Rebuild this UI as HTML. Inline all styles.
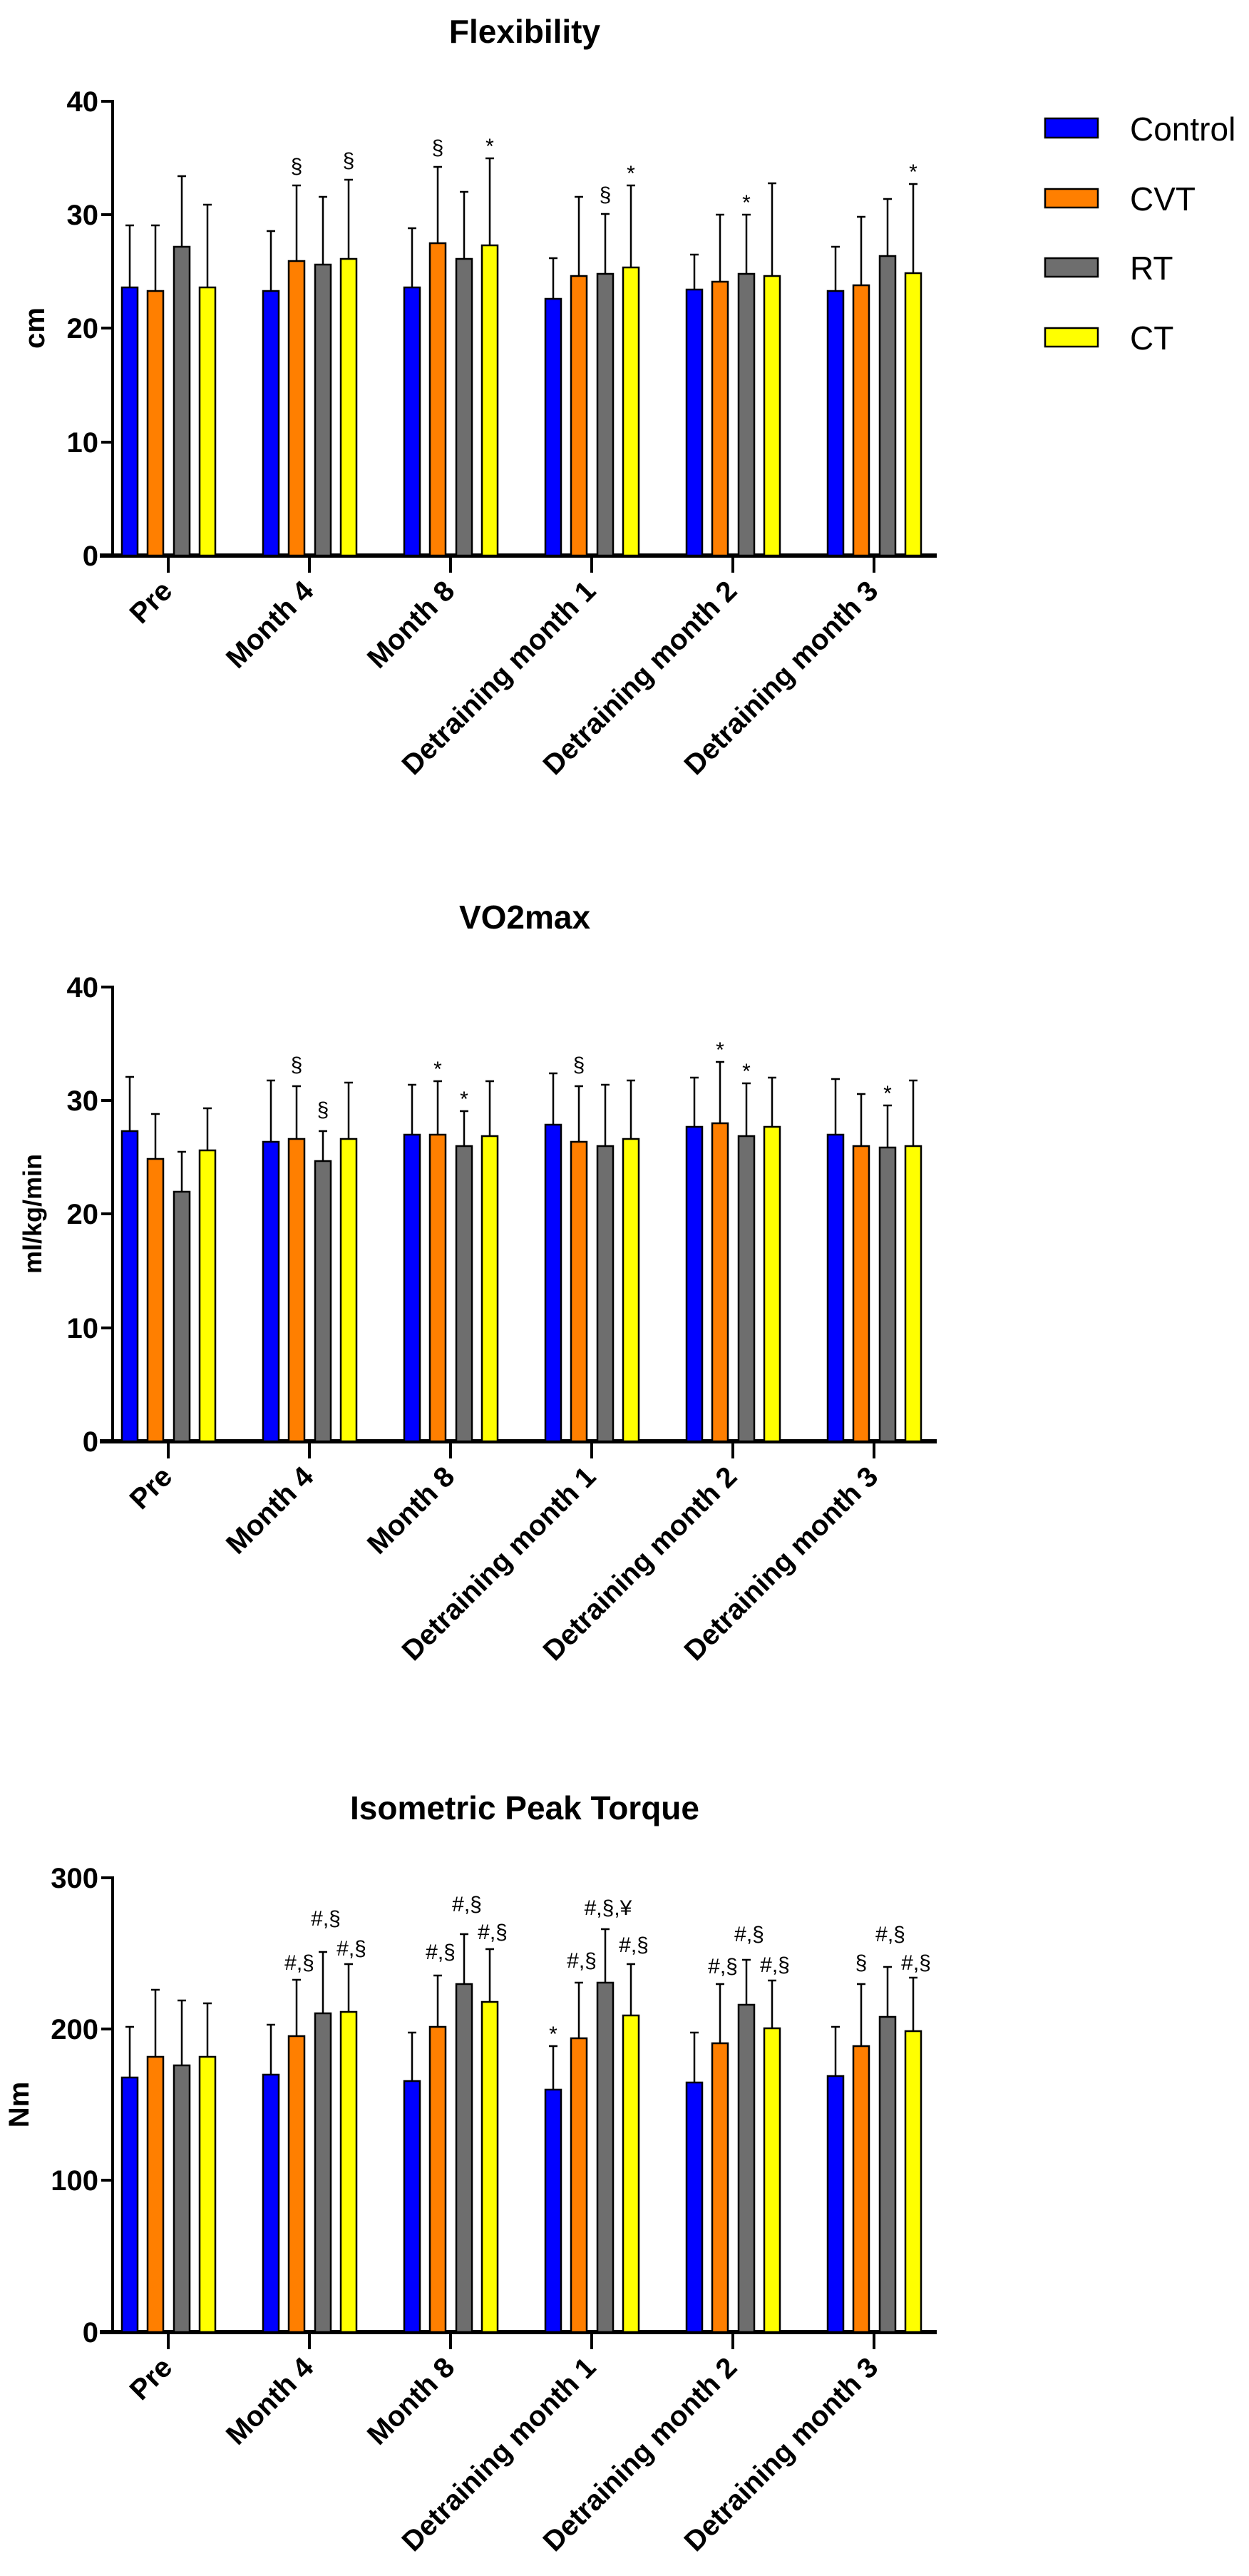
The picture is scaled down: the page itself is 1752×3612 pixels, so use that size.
<!DOCTYPE html>
<html><head><meta charset="utf-8"><style>
html,body{margin:0;padding:0;background:#fff}
svg{display:block}
text{font-family:"Liberation Sans",Arial,sans-serif}
.t{font-size:46px;font-weight:bold;text-anchor:middle}
.yt{font-size:40px;font-weight:bold;text-anchor:end}
.xl{font-size:40px;font-weight:bold;text-anchor:end}
.yl{font-size:40px;font-weight:bold;text-anchor:middle}
.an{font-size:30px;text-anchor:middle}
.lg{font-size:46px}
.b rect{stroke:#000;stroke-width:2.5}
.e line{stroke:#000;stroke-width:2.5}
</style></head><body>
<svg width="1752" height="3612" viewBox="0 0 1752 3612" xmlns="http://www.w3.org/2000/svg">
<defs>
<g id="axes">
<line x1="158" y1="140" x2="158" y2="781" stroke="#000" stroke-width="4"/>
<line x1="140" y1="779" x2="1314" y2="779" stroke="#000" stroke-width="6"/>
<g stroke="#000" stroke-width="4">
<line x1="142" y1="142" x2="158" y2="142"/>
<line x1="236" y1="779" x2="236" y2="803"/><line x1="434" y1="779" x2="434" y2="803"/><line x1="632" y1="779" x2="632" y2="803"/><line x1="830" y1="779" x2="830" y2="803"/><line x1="1028" y1="779" x2="1028" y2="803"/><line x1="1226" y1="779" x2="1226" y2="803"/>
</g>
<text class="xl" transform="translate(244,831) rotate(-45)">Pre</text>
<text class="xl" transform="translate(442,831) rotate(-45)">Month 4</text>
<text class="xl" transform="translate(640,831) rotate(-45)">Month 8</text>
<text class="xl" transform="translate(838,831) rotate(-45)">Detraining month 1</text>
<text class="xl" transform="translate(1036,831) rotate(-45)">Detraining month 2</text>
<text class="xl" transform="translate(1234,831) rotate(-45)">Detraining month 3</text>
</g>
<g id="t10" stroke="#000" stroke-width="4">
<line x1="142" y1="301" x2="158" y2="301"/><line x1="142" y1="460" x2="158" y2="460"/><line x1="142" y1="620" x2="158" y2="620"/>
</g>
</defs>

<!-- ============ FLEXIBILITY ============ -->
<g>
<text class="t" x="736" y="60">Flexibility</text>
<use href="#axes"/><use href="#t10"/>
<text class="yt" x="138" y="156">40</text><text class="yt" x="138" y="315">30</text><text class="yt" x="138" y="474">20</text><text class="yt" x="138" y="634">10</text><text class="yt" x="138" y="793">0</text>
<text class="yl" transform="translate(62,460) rotate(-90)">cm</text>
<g class="e">
<line x1="182" y1="316" x2="182" y2="403"/><line x1="176" y1="316" x2="188" y2="316"/>
<line x1="218" y1="316" x2="218" y2="408"/><line x1="212" y1="316" x2="224" y2="316"/>
<line x1="255" y1="247" x2="255" y2="346"/><line x1="249" y1="247" x2="261" y2="247"/>
<line x1="291" y1="287" x2="291" y2="403"/><line x1="285" y1="287" x2="297" y2="287"/>
<line x1="380" y1="324" x2="380" y2="408"/><line x1="374" y1="324" x2="386" y2="324"/>
<line x1="416" y1="260" x2="416" y2="366"/><line x1="410" y1="260" x2="422" y2="260"/>
<line x1="453" y1="276" x2="453" y2="371"/><line x1="447" y1="276" x2="459" y2="276"/>
<line x1="489" y1="252" x2="489" y2="363"/><line x1="483" y1="252" x2="495" y2="252"/>
<line x1="578" y1="320" x2="578" y2="403"/><line x1="572" y1="320" x2="584" y2="320"/>
<line x1="614" y1="234" x2="614" y2="341"/><line x1="608" y1="234" x2="620" y2="234"/>
<line x1="651" y1="269" x2="651" y2="363"/><line x1="645" y1="269" x2="657" y2="269"/>
<line x1="687" y1="222" x2="687" y2="344"/><line x1="681" y1="222" x2="693" y2="222"/>
<line x1="776" y1="362" x2="776" y2="419"/><line x1="770" y1="362" x2="782" y2="362"/>
<line x1="812" y1="276" x2="812" y2="387"/><line x1="806" y1="276" x2="818" y2="276"/>
<line x1="849" y1="300" x2="849" y2="384"/><line x1="843" y1="300" x2="855" y2="300"/>
<line x1="885" y1="260" x2="885" y2="375"/><line x1="879" y1="260" x2="891" y2="260"/>
<line x1="974" y1="357" x2="974" y2="406"/><line x1="968" y1="357" x2="980" y2="357"/>
<line x1="1010" y1="301" x2="1010" y2="395"/><line x1="1004" y1="301" x2="1016" y2="301"/>
<line x1="1047" y1="301" x2="1047" y2="384"/><line x1="1041" y1="301" x2="1053" y2="301"/>
<line x1="1083" y1="257" x2="1083" y2="387"/><line x1="1077" y1="257" x2="1089" y2="257"/>
<line x1="1172" y1="346" x2="1172" y2="408"/><line x1="1166" y1="346" x2="1178" y2="346"/>
<line x1="1208" y1="304" x2="1208" y2="400"/><line x1="1202" y1="304" x2="1214" y2="304"/>
<line x1="1245" y1="279" x2="1245" y2="359"/><line x1="1239" y1="279" x2="1251" y2="279"/>
<line x1="1281" y1="258" x2="1281" y2="383"/><line x1="1275" y1="258" x2="1287" y2="258"/>
</g>
<g class="b">
<rect x="171" y="403" width="22" height="376" fill="#0000ff"/><rect x="207" y="408" width="22" height="371" fill="#ff7f00"/><rect x="244" y="346" width="22" height="433" fill="#6e6e6e"/><rect x="280" y="403" width="22" height="376" fill="#ffff00"/>
<rect x="369" y="408" width="22" height="371" fill="#0000ff"/><rect x="405" y="366" width="22" height="413" fill="#ff7f00"/><rect x="442" y="371" width="22" height="408" fill="#6e6e6e"/><rect x="478" y="363" width="22" height="416" fill="#ffff00"/>
<rect x="567" y="403" width="22" height="376" fill="#0000ff"/><rect x="603" y="341" width="22" height="438" fill="#ff7f00"/><rect x="640" y="363" width="22" height="416" fill="#6e6e6e"/><rect x="676" y="344" width="22" height="435" fill="#ffff00"/>
<rect x="765" y="419" width="22" height="360" fill="#0000ff"/><rect x="801" y="387" width="22" height="392" fill="#ff7f00"/><rect x="838" y="384" width="22" height="395" fill="#6e6e6e"/><rect x="874" y="375" width="22" height="404" fill="#ffff00"/>
<rect x="963" y="406" width="22" height="373" fill="#0000ff"/><rect x="999" y="395" width="22" height="384" fill="#ff7f00"/><rect x="1036" y="384" width="22" height="395" fill="#6e6e6e"/><rect x="1072" y="387" width="22" height="392" fill="#ffff00"/>
<rect x="1161" y="408" width="22" height="371" fill="#0000ff"/><rect x="1197" y="400" width="22" height="379" fill="#ff7f00"/><rect x="1234" y="359" width="22" height="420" fill="#6e6e6e"/><rect x="1270" y="383" width="22" height="396" fill="#ffff00"/>
</g>
<text class="an" x="416" y="243">§</text><text class="an" x="489" y="235">§</text>
<text class="an" x="614" y="217">§</text><text class="an" x="687" y="215">*</text>
<text class="an" x="849" y="283">§</text><text class="an" x="885" y="253">*</text>
<text class="an" x="1047" y="294">*</text><text class="an" x="1281" y="251">*</text>
<g stroke="#000" stroke-width="2.5">
<rect x="1466" y="166" width="74" height="27" fill="#0000ff"/>
<rect x="1466" y="265" width="74" height="26" fill="#ff7f00"/>
<rect x="1466" y="362" width="74" height="26" fill="#6e6e6e"/>
<rect x="1466" y="460" width="74" height="26" fill="#ffff00"/>
</g>
<text class="lg" x="1585" y="197">Control</text>
<text class="lg" x="1585" y="295">CVT</text>
<text class="lg" x="1585" y="392">RT</text>
<text class="lg" x="1585" y="490">CT</text>
</g>

<!-- ============ VO2MAX ============ -->
<g transform="translate(0,1242)">
<text class="t" x="736" y="60">VO2max</text>
<use href="#axes"/><use href="#t10"/>
<text class="yt" x="138" y="156">40</text><text class="yt" x="138" y="315">30</text><text class="yt" x="138" y="474">20</text><text class="yt" x="138" y="634">10</text><text class="yt" x="138" y="793">0</text>
<text class="yl" style="font-size:36px" transform="translate(58,460) rotate(-90)">ml/kg/min</text>
<g class="e">
<line x1="182" y1="268" x2="182" y2="344"/><line x1="176" y1="268" x2="188" y2="268"/>
<line x1="218" y1="320" x2="218" y2="383"/><line x1="212" y1="320" x2="224" y2="320"/>
<line x1="255" y1="373" x2="255" y2="429"/><line x1="249" y1="373" x2="261" y2="373"/>
<line x1="291" y1="312" x2="291" y2="371"/><line x1="285" y1="312" x2="297" y2="312"/>
<line x1="380" y1="273" x2="380" y2="359"/><line x1="374" y1="273" x2="386" y2="273"/>
<line x1="416" y1="281" x2="416" y2="355"/><line x1="410" y1="281" x2="422" y2="281"/>
<line x1="453" y1="344" x2="453" y2="386"/><line x1="447" y1="344" x2="459" y2="344"/>
<line x1="489" y1="276" x2="489" y2="355"/><line x1="483" y1="276" x2="495" y2="276"/>
<line x1="578" y1="279" x2="578" y2="349"/><line x1="572" y1="279" x2="584" y2="279"/>
<line x1="614" y1="274" x2="614" y2="349"/><line x1="608" y1="274" x2="620" y2="274"/>
<line x1="651" y1="316" x2="651" y2="365"/><line x1="645" y1="316" x2="657" y2="316"/>
<line x1="687" y1="274" x2="687" y2="351"/><line x1="681" y1="274" x2="693" y2="274"/>
<line x1="776" y1="263" x2="776" y2="335"/><line x1="770" y1="263" x2="782" y2="263"/>
<line x1="812" y1="281" x2="812" y2="359"/><line x1="806" y1="281" x2="818" y2="281"/>
<line x1="849" y1="279" x2="849" y2="365"/><line x1="843" y1="279" x2="855" y2="279"/>
<line x1="885" y1="273" x2="885" y2="355"/><line x1="879" y1="273" x2="891" y2="273"/>
<line x1="974" y1="269" x2="974" y2="338"/><line x1="968" y1="269" x2="980" y2="269"/>
<line x1="1010" y1="247" x2="1010" y2="333"/><line x1="1004" y1="247" x2="1016" y2="247"/>
<line x1="1047" y1="277" x2="1047" y2="351"/><line x1="1041" y1="277" x2="1053" y2="277"/>
<line x1="1083" y1="269" x2="1083" y2="338"/><line x1="1077" y1="269" x2="1089" y2="269"/>
<line x1="1172" y1="271" x2="1172" y2="349"/><line x1="1166" y1="271" x2="1178" y2="271"/>
<line x1="1208" y1="292" x2="1208" y2="365"/><line x1="1202" y1="292" x2="1214" y2="292"/>
<line x1="1245" y1="308" x2="1245" y2="367"/><line x1="1239" y1="308" x2="1251" y2="308"/>
<line x1="1281" y1="273" x2="1281" y2="365"/><line x1="1275" y1="273" x2="1287" y2="273"/>
</g>
<g class="b">
<rect x="171" y="344" width="22" height="435" fill="#0000ff"/><rect x="207" y="383" width="22" height="396" fill="#ff7f00"/><rect x="244" y="429" width="22" height="350" fill="#6e6e6e"/><rect x="280" y="371" width="22" height="408" fill="#ffff00"/>
<rect x="369" y="359" width="22" height="420" fill="#0000ff"/><rect x="405" y="355" width="22" height="424" fill="#ff7f00"/><rect x="442" y="386" width="22" height="393" fill="#6e6e6e"/><rect x="478" y="355" width="22" height="424" fill="#ffff00"/>
<rect x="567" y="349" width="22" height="430" fill="#0000ff"/><rect x="603" y="349" width="22" height="430" fill="#ff7f00"/><rect x="640" y="365" width="22" height="414" fill="#6e6e6e"/><rect x="676" y="351" width="22" height="428" fill="#ffff00"/>
<rect x="765" y="335" width="22" height="444" fill="#0000ff"/><rect x="801" y="359" width="22" height="420" fill="#ff7f00"/><rect x="838" y="365" width="22" height="414" fill="#6e6e6e"/><rect x="874" y="355" width="22" height="424" fill="#ffff00"/>
<rect x="963" y="338" width="22" height="441" fill="#0000ff"/><rect x="999" y="333" width="22" height="446" fill="#ff7f00"/><rect x="1036" y="351" width="22" height="428" fill="#6e6e6e"/><rect x="1072" y="338" width="22" height="441" fill="#ffff00"/>
<rect x="1161" y="349" width="22" height="430" fill="#0000ff"/><rect x="1197" y="365" width="22" height="414" fill="#ff7f00"/><rect x="1234" y="367" width="22" height="412" fill="#6e6e6e"/><rect x="1270" y="365" width="22" height="414" fill="#ffff00"/>
</g>
<text class="an" x="416" y="261">§</text><text class="an" x="453" y="324">§</text>
<text class="an" x="614" y="267">*</text><text class="an" x="651" y="309">*</text>
<text class="an" x="812" y="261">§</text>
<text class="an" x="1010" y="240">*</text><text class="an" x="1047" y="270">*</text>
<text class="an" x="1245" y="301">*</text>
</g>

<!-- ============ TORQUE ============ -->
<g transform="translate(0,2491)">
<text class="t" x="736" y="60">Isometric Peak Torque</text>
<use href="#axes"/>
<g stroke="#000" stroke-width="4"><line x1="142" y1="354" x2="158" y2="354"/><line x1="142" y1="566" x2="158" y2="566"/></g>
<text class="yt" x="138" y="156">300</text><text class="yt" x="138" y="368">200</text><text class="yt" x="138" y="580">100</text><text class="yt" x="138" y="793">0</text>
<text class="yl" transform="translate(40,460) rotate(-90)">Nm</text>
<g class="e">
<line x1="182" y1="351" x2="182" y2="422"/><line x1="176" y1="351" x2="188" y2="351"/>
<line x1="218" y1="299" x2="218" y2="393"/><line x1="212" y1="299" x2="224" y2="299"/>
<line x1="255" y1="314" x2="255" y2="405"/><line x1="249" y1="314" x2="261" y2="314"/>
<line x1="291" y1="318" x2="291" y2="393"/><line x1="285" y1="318" x2="297" y2="318"/>
<line x1="380" y1="348" x2="380" y2="418"/><line x1="374" y1="348" x2="386" y2="348"/>
<line x1="416" y1="285" x2="416" y2="364"/><line x1="410" y1="285" x2="422" y2="285"/>
<line x1="453" y1="246" x2="453" y2="332"/><line x1="447" y1="246" x2="459" y2="246"/>
<line x1="489" y1="263" x2="489" y2="330"/><line x1="483" y1="263" x2="495" y2="263"/>
<line x1="578" y1="359" x2="578" y2="427"/><line x1="572" y1="359" x2="584" y2="359"/>
<line x1="614" y1="279" x2="614" y2="351"/><line x1="608" y1="279" x2="620" y2="279"/>
<line x1="651" y1="221" x2="651" y2="291"/><line x1="645" y1="221" x2="657" y2="221"/>
<line x1="687" y1="242" x2="687" y2="316"/><line x1="681" y1="242" x2="693" y2="242"/>
<line x1="776" y1="378" x2="776" y2="439"/><line x1="770" y1="378" x2="782" y2="378"/>
<line x1="812" y1="289" x2="812" y2="367"/><line x1="806" y1="289" x2="818" y2="289"/>
<line x1="849" y1="214" x2="849" y2="289"/><line x1="843" y1="214" x2="855" y2="214"/>
<line x1="885" y1="263" x2="885" y2="335"/><line x1="879" y1="263" x2="891" y2="263"/>
<line x1="974" y1="359" x2="974" y2="429"/><line x1="968" y1="359" x2="980" y2="359"/>
<line x1="1010" y1="291" x2="1010" y2="374"/><line x1="1004" y1="291" x2="1016" y2="291"/>
<line x1="1047" y1="257" x2="1047" y2="320"/><line x1="1041" y1="257" x2="1053" y2="257"/>
<line x1="1083" y1="286" x2="1083" y2="353"/><line x1="1077" y1="286" x2="1089" y2="286"/>
<line x1="1172" y1="351" x2="1172" y2="420"/><line x1="1166" y1="351" x2="1178" y2="351"/>
<line x1="1208" y1="291" x2="1208" y2="378"/><line x1="1202" y1="291" x2="1214" y2="291"/>
<line x1="1245" y1="267" x2="1245" y2="337"/><line x1="1239" y1="267" x2="1251" y2="267"/>
<line x1="1281" y1="282" x2="1281" y2="357"/><line x1="1275" y1="282" x2="1287" y2="282"/>
</g>
<g class="b">
<rect x="171" y="422" width="22" height="357" fill="#0000ff"/><rect x="207" y="393" width="22" height="386" fill="#ff7f00"/><rect x="244" y="405" width="22" height="374" fill="#6e6e6e"/><rect x="280" y="393" width="22" height="386" fill="#ffff00"/>
<rect x="369" y="418" width="22" height="361" fill="#0000ff"/><rect x="405" y="364" width="22" height="415" fill="#ff7f00"/><rect x="442" y="332" width="22" height="447" fill="#6e6e6e"/><rect x="478" y="330" width="22" height="449" fill="#ffff00"/>
<rect x="567" y="427" width="22" height="352" fill="#0000ff"/><rect x="603" y="351" width="22" height="428" fill="#ff7f00"/><rect x="640" y="291" width="22" height="488" fill="#6e6e6e"/><rect x="676" y="316" width="22" height="463" fill="#ffff00"/>
<rect x="765" y="439" width="22" height="340" fill="#0000ff"/><rect x="801" y="367" width="22" height="412" fill="#ff7f00"/><rect x="838" y="289" width="22" height="490" fill="#6e6e6e"/><rect x="874" y="335" width="22" height="444" fill="#ffff00"/>
<rect x="963" y="429" width="22" height="350" fill="#0000ff"/><rect x="999" y="374" width="22" height="405" fill="#ff7f00"/><rect x="1036" y="320" width="22" height="459" fill="#6e6e6e"/><rect x="1072" y="353" width="22" height="426" fill="#ffff00"/>
<rect x="1161" y="420" width="22" height="359" fill="#0000ff"/><rect x="1197" y="378" width="22" height="401" fill="#ff7f00"/><rect x="1234" y="337" width="22" height="442" fill="#6e6e6e"/><rect x="1270" y="357" width="22" height="422" fill="#ffff00"/>
</g>
<text class="an" x="420" y="271">#,§</text><text class="an" x="457" y="209">#,§</text><text class="an" x="493" y="251">#,§</text>
<text class="an" x="618" y="256">#,§</text><text class="an" x="655" y="189">#,§</text><text class="an" x="691" y="228">#,§</text>
<text class="an" x="776" y="371">*</text><text class="an" x="816" y="268">#,§</text><text class="an" x="853" y="194">#,§,¥</text><text class="an" x="889" y="246">#,§</text>
<text class="an" x="1014" y="276">#,§</text><text class="an" x="1051" y="231">#,§</text><text class="an" x="1087" y="274">#,§</text>
<text class="an" x="1208" y="271">§</text><text class="an" x="1249" y="231">#,§</text><text class="an" x="1285" y="271">#,§</text>
</g>
</svg>
</body></html>
